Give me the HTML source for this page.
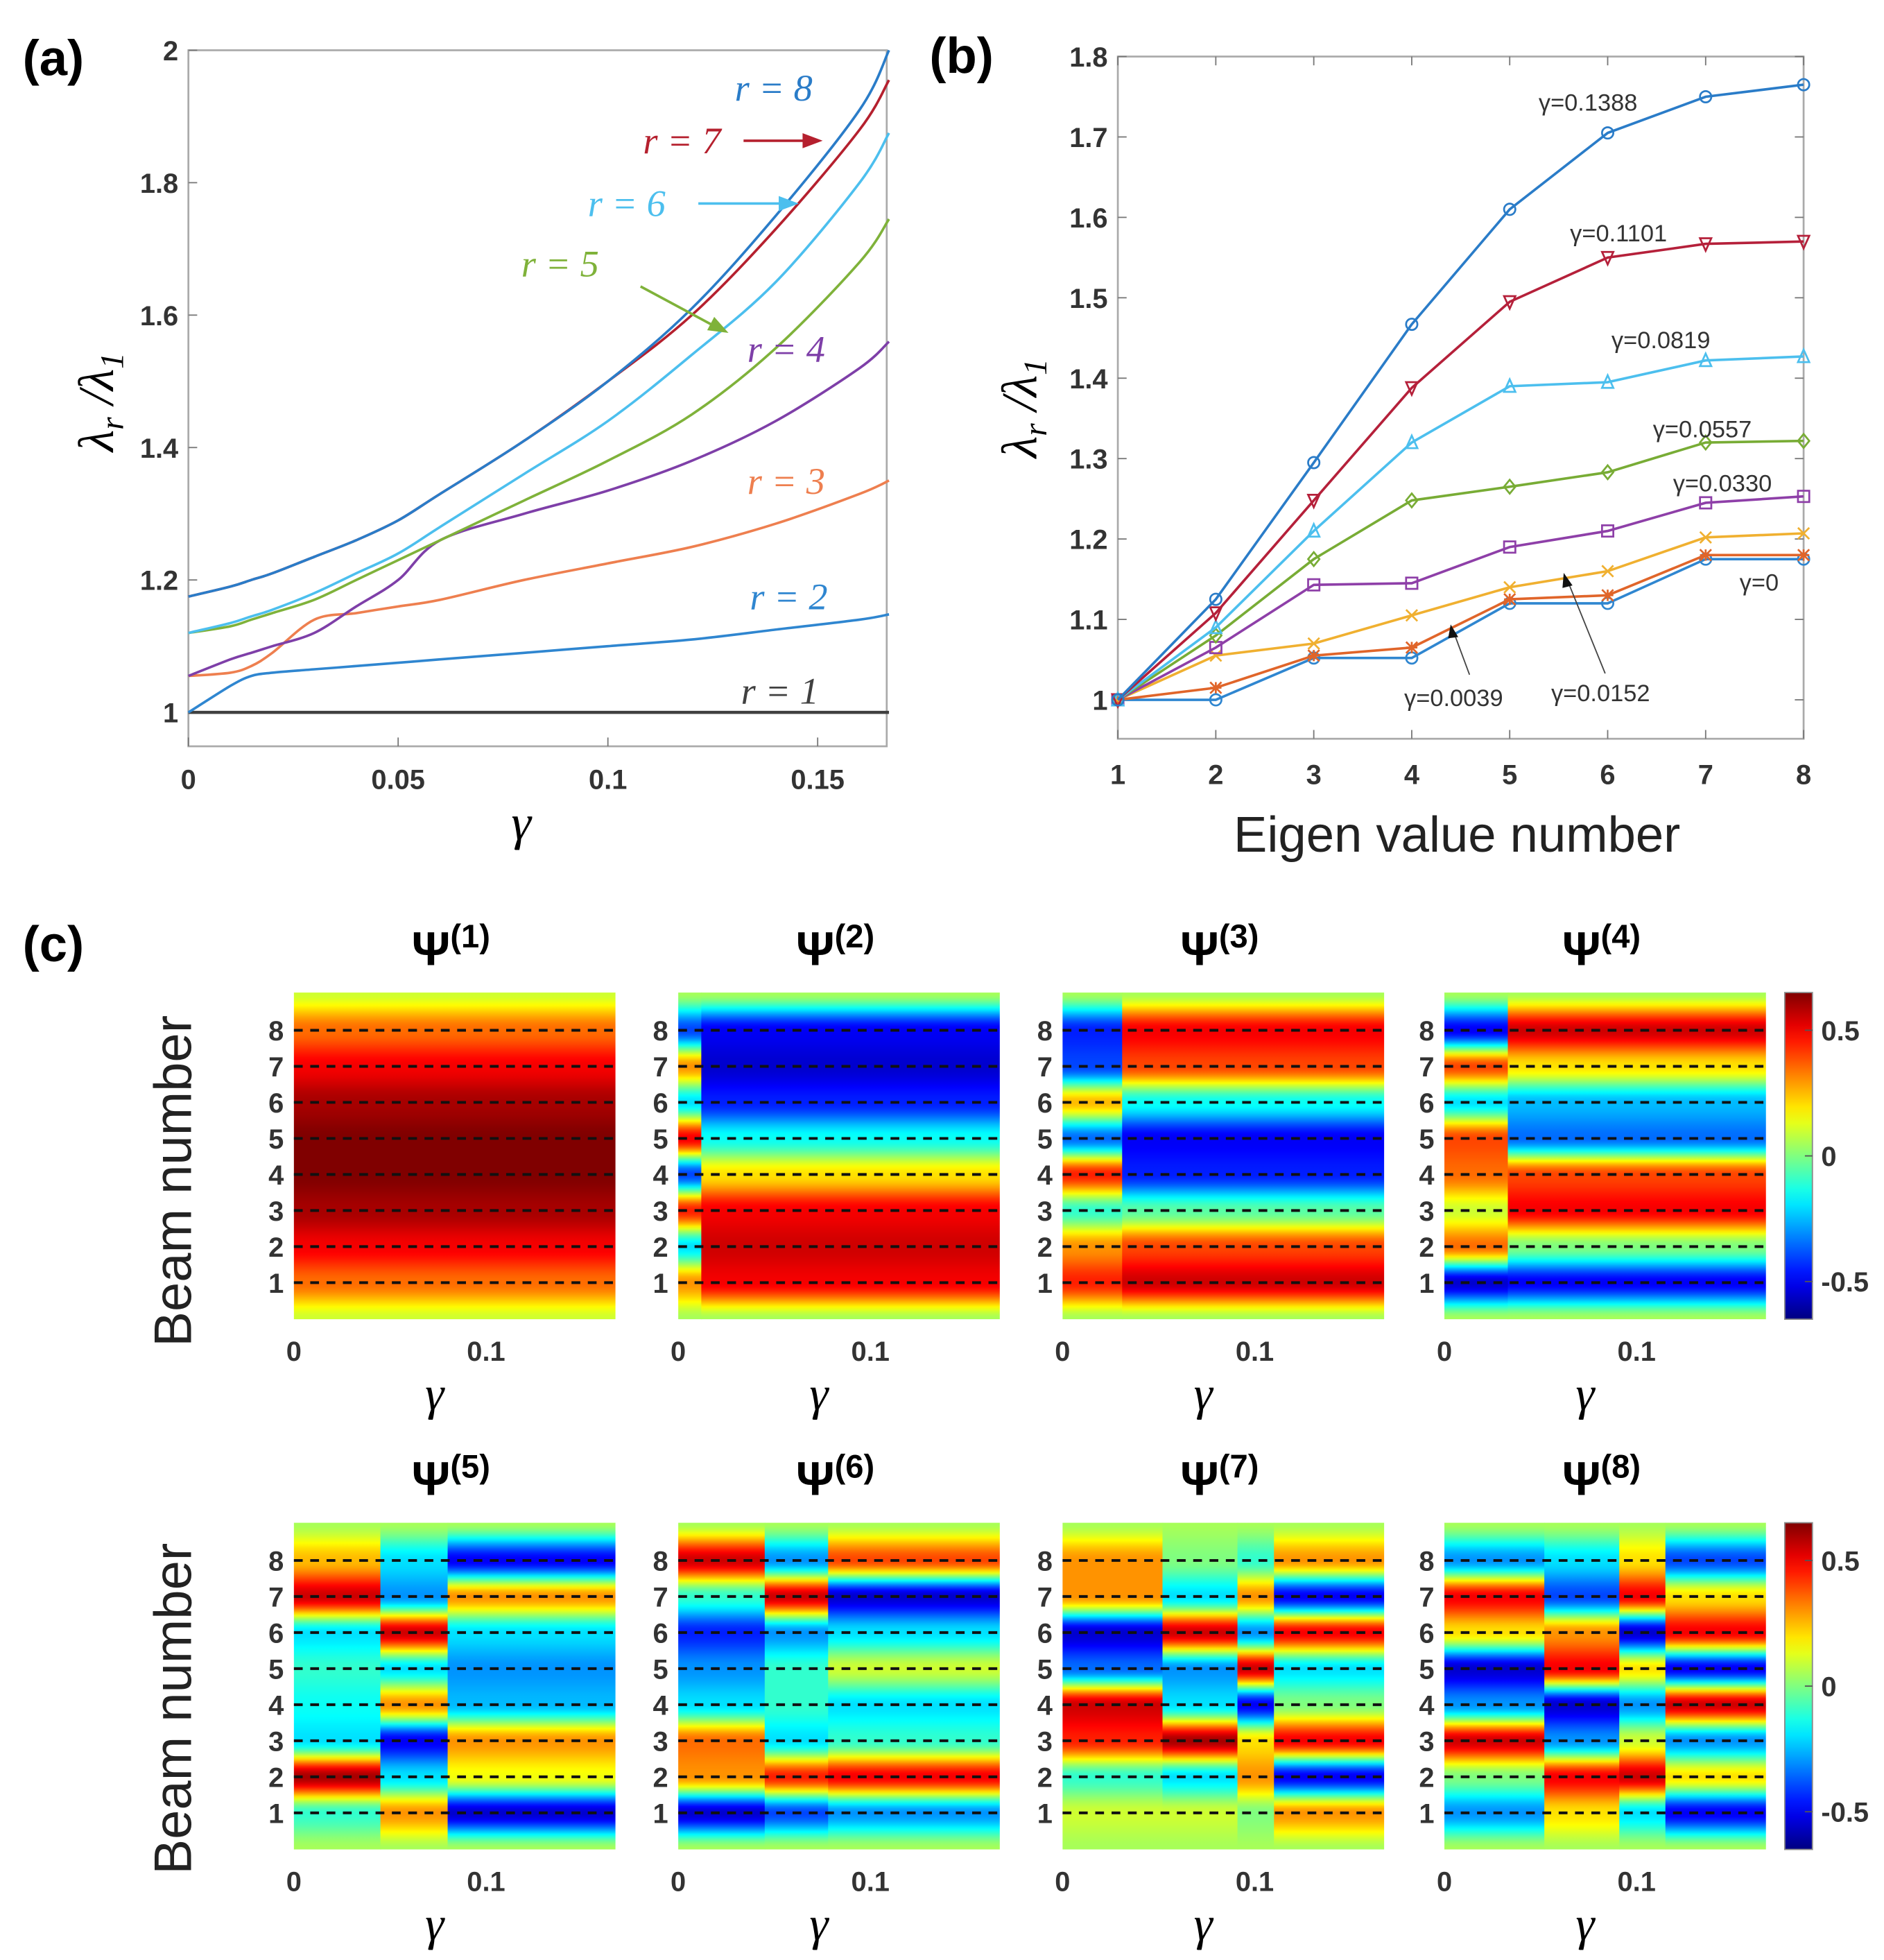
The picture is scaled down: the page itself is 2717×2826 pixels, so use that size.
<!DOCTYPE html>
<html><head><meta charset="utf-8"><style>
html,body{margin:0;padding:0;background:#fff;}
svg{display:block;}
text{font-family:"Liberation Sans",sans-serif;}
.tk{font-size:22px;font-weight:bold;fill:#333;}
.ser{font-family:"Liberation Serif",serif;font-style:italic;}
</style></head><body>
<svg id="fig" width="2717" height="2826" viewBox="0 0 1500 1560" preserveAspectRatio="none" xmlns="http://www.w3.org/2000/svg">
<defs id="defs"></defs>
<g id="pa"></g>
<g id="pb"></g>
<g id="pc"></g>
</svg>
<script>
// ---------- Panel (a) data ----------
const gammaGrid = [0,0.01,0.015,0.02,0.03,0.04,0.05,0.06,0.08,0.1,0.12,0.14,0.16,0.167];
const r1 = [1,1,1,1,1,1,1,1,1,1,1,1,1,1];
const r2 = [1.0,1.04,1.055,1.06,1.065,1.07,1.075,1.08,1.09,1.1,1.11,1.125,1.14,1.148];
const r3 = [1.055,1.06,1.07,1.09,1.14,1.15,1.16,1.17,1.2,1.225,1.25,1.285,1.33,1.35];
const r4 = [1.055,1.08,1.09,1.1,1.12,1.16,1.2,1.26,1.3,1.335,1.38,1.44,1.52,1.56];
const r5 = [1.12,1.13,1.14,1.15,1.17,1.2,1.23,1.26,1.32,1.38,1.45,1.55,1.68,1.745];
const r6 = [1.12,1.135,1.145,1.155,1.18,1.21,1.24,1.28,1.36,1.44,1.54,1.65,1.8,1.875];
const r7 = [1.175,1.19,1.2,1.21,1.235,1.26,1.29,1.33,1.41,1.5,1.6,1.73,1.88,1.955];
const r8 = [1.175,1.19,1.2,1.21,1.235,1.26,1.29,1.33,1.41,1.5,1.61,1.75,1.91,2.0];
const aSeries = [r1,r2,r3,r4,r5,r6,r7,r8];
const aColors = ["#404040","#2f86d0","#ee7f4f","#7e3fa8","#7fb23a","#4cbfee","#b5202e","#2a7cc8"];
const aYTicks = [1,1.2,1.4,1.6,1.8,2];
const aYTickLabels = ["1","1.2","1.4","1.6","1.8","2"];
const aXTicks = [0,0.05,0.1,0.15];
const aXTickLabels = ["0","0.05","0.1","0.15"];

// ---------- Panel (b) data ----------
const bX = [1,2,3,4,5,6,7,8];
const b1388 = [1,1.125,1.295,1.467,1.61,1.705,1.75,1.765];
const b1101 = [1,1.108,1.248,1.388,1.495,1.55,1.567,1.57];
const b0819 = [1,1.09,1.21,1.32,1.39,1.395,1.422,1.427];
const b0557 = [1,1.08,1.175,1.248,1.265,1.283,1.32,1.322];
const b0330 = [1,1.065,1.143,1.145,1.19,1.21,1.245,1.253];
const b0152 = [1,1.055,1.07,1.105,1.14,1.16,1.202,1.207];
const b0039 = [1,1.015,1.055,1.065,1.125,1.13,1.18,1.18];
const b0000 = [1,1.0,1.052,1.052,1.12,1.12,1.175,1.175];
const bSeries = [b0000,b0039,b0152,b0330,b0557,b0819,b1101,b1388];
const bColors = ["#2f86d0","#e0652a","#f0b030","#8e3fa8","#78ac35","#4cbfee","#b5203a","#2a7cc8"];
const bMarkers = ["o","*","x","s","d","^","v","o"];
const bYTicks = [1,1.1,1.2,1.3,1.4,1.5,1.6,1.7,1.8];
const bYTickLabels = ["1","1.1","1.2","1.3","1.4","1.5","1.6","1.7","1.8"];

// ---------- Panel (c) data ----------
const segEdges1 = [0,0.167];
const segVals1 = [[0.35,0.5,0.6,0.65,0.65,0.6,0.5,0.35]];
const segEdges2 = [0,0.012,0.167];
const segVals2 = [[0.3,-0.2,0.45,-0.4,0.5,-0.2,0.3,-0.4],[0.5,0.55,0.5,0.2,-0.15,-0.45,-0.55,-0.5]];
const segEdges3 = [0,0.031,0.167];
const segVals3 = [[0.45,0.3,-0.1,0.45,-0.35,0.25,-0.4,-0.45],[0.55,0.4,-0.05,-0.45,-0.5,-0.15,0.4,0.5]];
const segEdges4 = [0,0.033,0.167];
const segVals4 = [[-0.55,0.35,0.1,0.35,0.4,-0.2,0.4,-0.5],[-0.5,0.0,0.5,0.4,-0.35,-0.25,0.2,0.55]];
const segEdges5 = [0,0.045,0.08,0.167];
const segVals5 = [[-0.1,0.6,-0.2,-0.15,-0.1,-0.2,0.55,0.25],[0.3,-0.2,-0.5,0.3,-0.2,0.55,-0.3,-0.2],[-0.55,0.15,0.3,-0.25,-0.3,-0.2,0.3,-0.5]];
const segEdges6 = [0,0.045,0.078,0.167];
const segVals6 = [[-0.55,0.3,0.35,-0.2,-0.3,-0.45,-0.1,0.55],[-0.4,0.45,-0.2,-0.1,-0.1,-0.3,0.55,-0.3],[-0.3,0.5,-0.1,-0.2,0.1,-0.2,-0.55,0.4]];
const segEdges7 = [0,0.052,0.091,0.11,0.167];
const segVals7 = [[0.1,-0.1,0.45,0.55,-0.35,-0.55,0.3,0.3],[0.1,-0.2,0.6,-0.2,-0.3,0.55,-0.2,0.0],[0.0,0.3,0.2,-0.5,0.55,-0.3,0.3,-0.1],[0.3,-0.5,0.5,0.0,-0.2,0.5,-0.5,0.3]];
const segEdges8 = [0,0.052,0.091,0.115,0.167];
const segVals8 = [[-0.3,0.0,0.55,-0.3,-0.55,0.2,0.5,-0.3],[0.2,0.5,-0.3,-0.55,0.5,0.3,-0.4,-0.2],[-0.2,0.55,0.1,-0.3,0.2,-0.55,0.5,0.2],[-0.5,0.2,-0.3,0.55,-0.5,0.5,0.2,-0.4]];
const modeEdges = [segEdges1,segEdges2,segEdges3,segEdges4,segEdges5,segEdges6,segEdges7,segEdges8];
const modeVals = [segVals1,segVals2,segVals3,segVals4,segVals5,segVals6,segVals7,segVals8];
const beamLabels = ["1","2","3","4","5","6","7","8"];
const cbTicks = [0.5,0,-0.5];
const cbTickLabels = ["0.5","0","-0.5"];

const NS="http://www.w3.org/2000/svg";
function mk(tag,attrs,parent,txt){const e=document.createElementNS(NS,tag);for(const k in attrs)e.setAttribute(k,attrs[k]);if(txt!==undefined)e.textContent=txt;parent.appendChild(e);return e;}

function jet(v){
  let t=(v+0.65)/1.3; t=Math.max(0,Math.min(1,t));
  const f=x=>Math.max(0,Math.min(1,x));
  const r=f(1.5-Math.abs(4*t-3)), g=f(1.5-Math.abs(4*t-2)), b=f(1.5-Math.abs(4*t-1));
  return `rgb(${Math.round(r*255)},${Math.round(g*255)},${Math.round(b*255)})`;
}
function smoothPath(pts){
  let d='M'+pts[0][0].toFixed(1)+','+pts[0][1].toFixed(1);
  for(let i=0;i<pts.length-1;i++){
    const p0=pts[Math.max(0,i-1)],p1=pts[i],p2=pts[i+1],p3=pts[Math.min(pts.length-1,i+2)];
    const c1=[p1[0]+(p2[0]-p0[0])/6,p1[1]+(p2[1]-p0[1])/6];
    const c2=[p2[0]-(p3[0]-p1[0])/6,p2[1]-(p3[1]-p1[1])/6];
    d+=`C${c1[0].toFixed(1)},${c1[1].toFixed(1)} ${c2[0].toFixed(1)},${c2[1].toFixed(1)} ${p2[0].toFixed(1)},${p2[1].toFixed(1)}`;
  }
  return d;
}

// ===== Panel (a) =====
const pa=document.getElementById('pa');
const xa=g=>150+g*(501/0.15), ya=v=>567-(v-1)*527;
let e;
e=mk('text',{x:18,y:60,'font-size':40,'font-weight':'bold'},pa,'(a)');

e=mk('rect',{x:150,y:40,width:556,height:554,fill:'none',stroke:'#aaa','stroke-width':1.5},pa);

aYTicks.forEach((v,i)=>{
  mk('line',{x1:150,x2:157,y1:ya(v),y2:ya(v),stroke:'#777'},pa);
  e=mk('text',{x:142,y:ya(v)+8,'text-anchor':'end',class:'tk'},pa,aYTickLabels[i]);
  
});
aXTicks.forEach((v,i)=>{
  mk('line',{x1:xa(v),x2:xa(v),y1:594,y2:587,stroke:'#777'},pa);
  e=mk('text',{x:xa(v),y:628,'text-anchor':'middle',class:'tk'},pa,aXTickLabels[i]);
  
});
aSeries.forEach((s,k)=>{
  const d=smoothPath(s.map((v,i)=>[xa(gammaGrid[i]),ya(v)]));
  e=mk('path',{d:d,fill:'none',stroke:aColors[k],'stroke-width':k==0?2.5:2},pa);
  
});
const aLab=[[590,560,0,"r = 1"],[597,485,1,"r = 2"],[595,393,2,"r = 3"],[595,288,3,"r = 4"],[415,220,4,"r = 5"],[468,172,5,"r = 6"],[512,122,6,"r = 7"],[585,80,7,"r = 8"]];
aLab.forEach(l=>{
  e=mk('text',{x:l[0],y:l[1],'font-size':30,fill:aColors[l[2]],class:'ser'},pa,l[3]);
  
});
[[592,112,655,112,6],[556,162,636,162,5],[510,228,580,265,4]].forEach(a=>{
  mk('line',{x1:a[0],y1:a[1],x2:a[2]-10,y2:a[3]-(a[3]-a[1])*0.13,stroke:aColors[a[4]],'stroke-width':2},pa);
  const ang=Math.atan2(a[3]-a[1],a[2]-a[0]);
  const p=(d,o)=>[a[2]-d*Math.cos(ang)+o*Math.sin(ang),a[3]-d*Math.sin(ang)-o*Math.cos(ang)];
  const p1=p(16,6),p2=p(16,-6);
  mk('polygon',{points:`${a[2]},${a[3]} ${p1} ${p2}`,fill:aColors[a[4]]},pa);
});
e=mk('text',{transform:'translate(90,320) rotate(-90)','text-anchor':'middle','font-size':40,class:'ser'},pa);
e.innerHTML='λ<tspan font-size="26" dy="8">r</tspan><tspan dy="-8"> /λ</tspan><tspan font-size="26" dy="8">1</tspan>';

e=mk('text',{x:415,y:668,'text-anchor':'middle','font-size':40,class:'ser'},pa,'γ');


// ===== Panel (b) =====
const pb=document.getElementById('pb');
const xb=n=>890+(n-1)*78, yb=v=>557-(v-1)*640;
e=mk('text',{x:740,y:58,'font-size':40,'font-weight':'bold'},pb,'(b)');

e=mk('rect',{x:890,y:45,width:546,height:543,fill:'none',stroke:'#aaa','stroke-width':1.5},pb);

bYTicks.forEach((v,i)=>{
  mk('line',{x1:890,x2:897,y1:yb(v),y2:yb(v),stroke:'#777'},pb);
  mk('line',{x1:1436,x2:1429,y1:yb(v),y2:yb(v),stroke:'#777'},pb);
  e=mk('text',{x:882,y:yb(v)+8,'text-anchor':'end',class:'tk'},pb,bYTickLabels[i]);
  
});
bX.forEach(n=>{
  mk('line',{x1:xb(n),x2:xb(n),y1:588,y2:581,stroke:'#777'},pb);
  mk('line',{x1:xb(n),x2:xb(n),y1:45,y2:52,stroke:'#777'},pb);
  e=mk('text',{x:xb(n),y:624,'text-anchor':'middle',class:'tk'},pb,String(n));
  
});
function marker(t,x,y,c,g){
  const s=4.5;
  if(t=='o') return mk('circle',{cx:x,cy:y,r:s,fill:'none',stroke:c,'stroke-width':1.5},g);
  if(t=='s') return mk('rect',{x:x-s,y:y-s,width:2*s,height:2*s,fill:'none',stroke:c,'stroke-width':1.5},g);
  if(t=='d') return mk('polygon',{points:`${x},${y-s-1} ${x+s},${y} ${x},${y+s+1} ${x-s},${y}`,fill:'none',stroke:c,'stroke-width':1.5},g);
  if(t=='^') return mk('polygon',{points:`${x},${y-s-1} ${x+s},${y+s} ${x-s},${y+s}`,fill:'none',stroke:c,'stroke-width':1.5},g);
  if(t=='v') return mk('polygon',{points:`${x},${y+s+1} ${x+s},${y-s} ${x-s},${y-s}`,fill:'none',stroke:c,'stroke-width':1.5},g);
  if(t=='x') return mk('path',{d:`M${x-s},${y-s}L${x+s},${y+s}M${x-s},${y+s}L${x+s},${y-s}`,stroke:c,'stroke-width':1.5},g);
  return mk('path',{d:`M${x-s},${y}L${x+s},${y}M${x},${y-s}L${x},${y+s}M${x-s},${y-s}L${x+s},${y+s}M${x-s},${y+s}L${x+s},${y-s}`,stroke:c,'stroke-width':1.5},g);
}
bSeries.forEach((s,k)=>{
  const g=mk('g',{},pb);
  
  const d=s.map((v,i)=>(i?'L':'M')+xb(bX[i])+','+yb(v).toFixed(1)).join('');
  mk('path',{d:d,fill:'none',stroke:bColors[k],'stroke-width':2},g);
  s.forEach((v,i)=>{const m=marker(bMarkers[k],xb(bX[i]),yb(v),bColors[k],g);
    });
});
const bAnn=[[1225,88,"γ=0.1388"],[1250,192,"γ=0.1101"],[1283,277,"γ=0.0819"],[1316,348,"γ=0.0557"],[1332,391,"γ=0.0330"],[1385,470,"γ=0"],[1118,562,"γ=0.0039"],[1235,558,"γ=0.0152"]];
bAnn.forEach(a=>{e=mk('text',{x:a[0],y:a[1],'font-size':19,fill:'#333'},pb,a[2]);
  });
mk('line',{x1:1170,y1:537,x2:1157,y2:502,stroke:'#444'},pb);
mk('polygon',{points:'1155,497 1161,507 1153,508',fill:'#111'},pb);
mk('line',{x1:1278,y1:536,x2:1248,y2:462,stroke:'#444'},pb);
mk('polygon',{points:'1245,456 1252,466 1244,468',fill:'#111'},pb);
e=mk('text',{transform:'translate(825,325) rotate(-90)','text-anchor':'middle','font-size':40,class:'ser'},pb);
e.innerHTML='λ<tspan font-size="26" dy="8">r</tspan><tspan dy="-8"> /λ</tspan><tspan font-size="26" dy="8">1</tspan>';

e=mk('text',{x:1160,y:678,'text-anchor':'middle','font-size':40,fill:'#222'},pb,'Eigen value number');


// ===== Panel (c) =====
const pc=document.getElementById('pc'), defs=document.getElementById('defs');
e=mk('text',{x:18,y:765,'font-size':40,'font-weight':'bold'},pc,'(c)');

const lefts=[234,540,846,1150], tops=[790,1212], W=258, H=260;
for(let m=0;m<8;m++){
  const L=lefts[m%4], T=tops[Math.floor(m/4)];
  const xg=g=>L+g*1530, yBeam=b=>T+30+(8-b)*28.7;
  const g=mk('g',{},pc);
  
  const edges=modeEdges[m], vals=modeVals[m];
  const edgeV=m==0?0.1:0.05;
  for(let s=0;s<vals.length;s++){
    const id='gr'+m+'_'+s;
    const gr=mk('linearGradient',{id:id,gradientUnits:'userSpaceOnUse',x1:0,y1:T,x2:0,y2:T+H},defs);
    const v=vals[s];
    // knots: top edge, beams 8..1, bottom edge
    const ky=[T], kv=[edgeV];
    for(let b=8;b>=1;b--){ky.push(yBeam(b));kv.push(v[b-1]);}
    ky.push(T+H);kv.push(edgeV);
    for(let y=T;y<=T+H;y+=2){
      let j=0; while(j<ky.length-2 && y>ky[j+1]) j++;
      let t=(y-ky[j])/(ky[j+1]-ky[j]); t=Math.max(0,Math.min(1,t));
      t=t*t*(3-2*t);
      const val=kv[j]+(kv[j+1]-kv[j])*t;
      mk('stop',{offset:((y-T)/H).toFixed(4),'stop-color':jet(val)},gr);
    }
    const x0=xg(edges[s]), x1=Math.min(xg(edges[s+1]),L+W);
    const c=mk('rect',{x:x0,y:T,width:x1-x0+0.5,height:H,fill:`url(#${id})`},g);
    
  }
  for(let b=1;b<=8;b++){
    mk('line',{x1:L,x2:L+W,y1:yBeam(b),y2:yBeam(b),stroke:'#111','stroke-width':2.2,'stroke-dasharray':'7,6'},g);
    e=mk('text',{x:L-8,y:yBeam(b)+8,'text-anchor':'end',class:'tk','font-weight':'normal'},g,beamLabels[b-1]);
    
  }
  e=mk('text',{x:L,y:T+H+33,'text-anchor':'middle',class:'tk'},g,'0');
  
  e=mk('text',{x:xg(0.1),y:T+H+33,'text-anchor':'middle',class:'tk'},g,'0.1');
  
  e=mk('text',{x:L+112,y:T+H+72,'text-anchor':'middle','font-size':38,class:'ser'},g,'γ');
  
  e=mk('text',{x:L+125,y:T-22,'text-anchor':'middle','font-size':38,'font-weight':'bold','font-family':'Liberation Serif, serif'},g);
  e.innerHTML='Ψ<tspan font-size="26" dy="-14">('+(m+1)+')</tspan>';
  
}
[940,1360].forEach(cy=>{
  e=mk('text',{transform:`translate(152,${cy}) rotate(-90)`,'text-anchor':'middle','font-size':42,fill:'#222'},pc,'Beam number');
  
});
const cbg=mk('linearGradient',{id:'cbgrad',x1:0,y1:1,x2:0,y2:0},defs);
for(let i=0;i<=20;i++){mk('stop',{offset:i/20,'stop-color':jet(-0.65+1.3*i/20)},cbg);}
tops.forEach(T=>{
  const g=mk('g',{},pc);
  
  mk('rect',{x:1421,y:T,width:22,height:H,fill:'url(#cbgrad)',stroke:'#888'},g);
  const yc=v=>T+130-v*200;
  cbTicks.forEach((v,i)=>{
    mk('line',{x1:1437,x2:1443,y1:yc(v),y2:yc(v),stroke:'#555'},g);
    e=mk('text',{x:1450,y:yc(v)+8,class:'tk'},g,cbTickLabels[i]);
    
  });
});
</script>
</body></html>
